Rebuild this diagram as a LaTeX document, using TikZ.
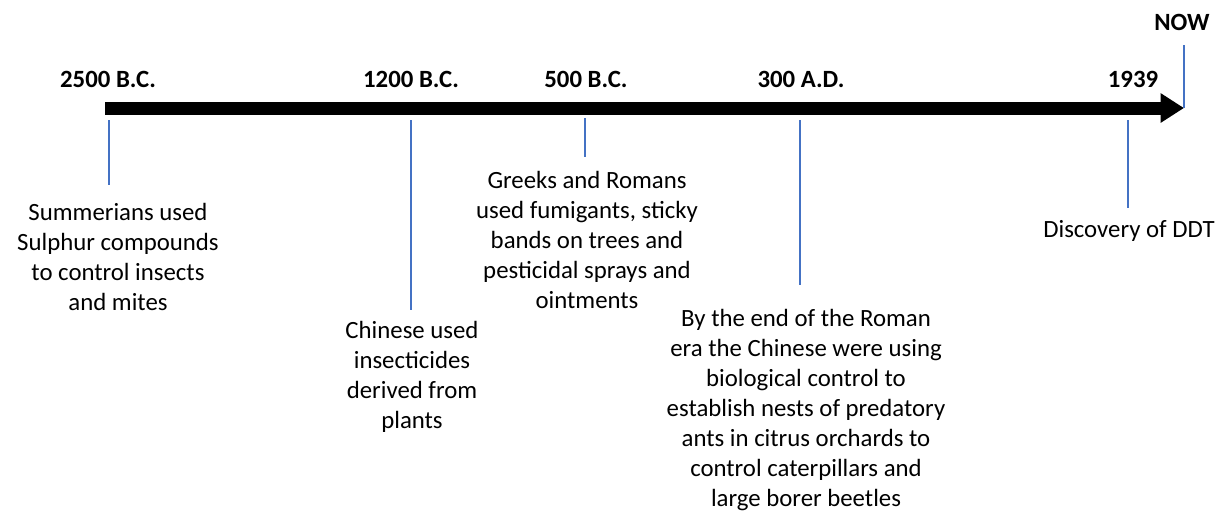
\documentclass[tikz,border=0pt]{standalone}
\usepackage{fontspec}
\setmainfont{Carlito}
\usetikzlibrary{arrows.meta}
\definecolor{tickblue}{HTML}{4472C4}
\begin{document}
\begin{tikzpicture}[x=0.75pt,y=-0.75pt,
  yearlbl/.style={font=\bfseries\fontsize{18.6}{22.5}\selectfont, inner sep=0pt, anchor=center},
  desc/.style={font=\fontsize{18.6}{22.5}\selectfont, align=center, inner sep=0pt, anchor=center},
  tickline/.style={draw=tickblue, line width=1.6pt}]
\useasboundingbox (0,0) rectangle (1220,512);
% timeline
\coordinate (tstart) at (105,108);
\coordinate (tend) at (1184,108);
\draw[line width=9.75pt, -{Triangle[length=17.5pt,width=21pt]}] (tstart) -- (tend);
% year labels
\node[yearlbl] (y1) at (108,79) {2500 B.C.};
\node[yearlbl] (y2) at (411,79) {1200 B.C.};
\node[yearlbl] (y3) at (586,79) {500 B.C.};
\node[yearlbl] (y4) at (801,79) {300 A.D.};
\node[yearlbl] (y5) at (1133,79) {1939};
\node[yearlbl] (y6) at (1182,22) {NOW};
% tick coordinates
\coordinate (a1) at (109,120); \coordinate (b1) at (109,185);
\coordinate (a2) at (411,120); \coordinate (b2) at (411,310);
\coordinate (a3) at (585,118); \coordinate (b3) at (585,157);
\coordinate (a4) at (800,120); \coordinate (b4) at (800,285);
\coordinate (a5) at (1128,120); \coordinate (b5) at (1128,208);
\coordinate (a6) at (1184,45); \coordinate (b6) at (1184,108);
\draw[tickline] (a1) -- (b1);
\draw[tickline] (a2) -- (b2);
\draw[tickline] (a3) -- (b3);
\draw[tickline] (a4) -- (b4);
\draw[tickline] (a5) -- (b5);
\draw[tickline] (a6) -- (b6);
% descriptions
\node[desc] (d1) at (118,257) {Summerians used\\Sulphur compounds\\to control insects\\and mites};
\node[desc] (d2) at (412,377) {Chinese used\\insecticides\\derived from\\plants};
\node[desc] (d3) at (587,240) {Greeks and Romans\\used fumigants, sticky\\bands on trees and\\pesticidal sprays and\\ointments};
\node[desc] (d4) at (806,410) {By the end of the Roman\\era the Chinese were using\\biological control to\\establish nests of predatory\\ants in citrus orchards to\\control caterpillars and\\large borer beetles};
\node[desc] (d5) at (1129,231) {Discovery of DDT};
\end{tikzpicture}
\end{document}
